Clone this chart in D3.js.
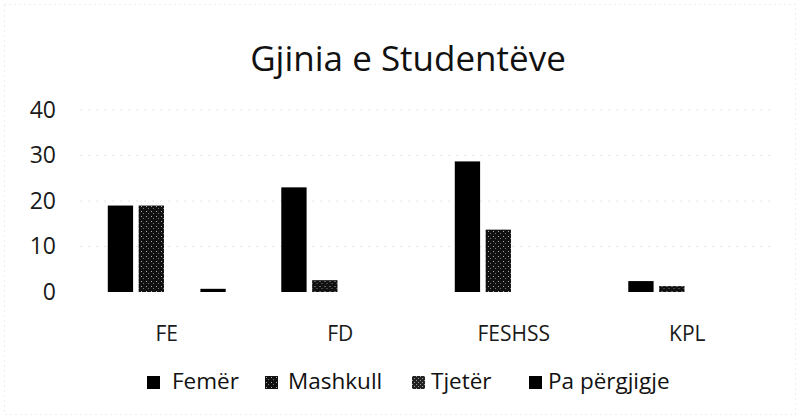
<!DOCTYPE html>
<html>
<head>
<meta charset="utf-8">
<script src="https://cdn.jsdelivr.net/npm/d3@7"></script>
<style>
  body { margin: 0; background: #fff; }
  svg { display: block; font-family: "Open Sans", sans-serif; }
</style>
</head>
<body>
<svg width="800" height="419"></svg>
<script>
var categories = ["FE", "FD", "FESHSS", "KPL"],
    series = ["Femër", "Mashkull", "Tjetër", "Pa përgjigje"],
    femer = [19, 23, 28.7, 2.4],
    mashkull = [19, 2.6, 13.7, 1.3],
    tjeter = [0, 0, 0, 0],
    paPergjigje = [0.7, 0, 0, 0],
    yTicks = [0, 10, 20, 30, 40];

var values = [femer, mashkull, tjeter, paPergjigje];

var svg = d3.select("svg"),
    width = 800,
    height = 419,
    margin = {top: 110, right: 26, bottom: 127, left: 80};

var fills = ["#000", "url(#speckle)", "url(#speckle2)", "#000"];

// speckled fills, like the scanned print
var defs = svg.append("defs");
var pat = defs.append("pattern")
    .attr("id", "speckle")
    .attr("width", 5).attr("height", 5)
    .attr("patternUnits", "userSpaceOnUse");
pat.append("rect").attr("width", 5).attr("height", 5).attr("fill", "#111");
pat.append("rect").attr("x", 1).attr("y", 1).attr("width", 1).attr("height", 1).attr("fill", "#aaa");
pat.append("rect").attr("x", 3).attr("y", 3).attr("width", 1).attr("height", 1).attr("fill", "#777");
var pat2 = defs.append("pattern")
    .attr("id", "speckle2")
    .attr("width", 4).attr("height", 4)
    .attr("patternUnits", "userSpaceOnUse");
pat2.append("rect").attr("width", 4).attr("height", 4).attr("fill", "#222");
pat2.append("rect").attr("x", 0).attr("y", 0).attr("width", 1).attr("height", 1).attr("fill", "#999");
pat2.append("rect").attr("x", 2).attr("y", 2).attr("width", 1).attr("height", 1).attr("fill", "#999");

// faint chart border
svg.append("rect")
    .attr("x", 4.5).attr("y", 4.5)
    .attr("width", width - 9).attr("height", height - 9)
    .attr("fill", "none")
    .attr("stroke", "#ddd")
    .attr("stroke-dasharray", "1,4");

var x0 = d3.scaleBand()
    .domain(categories)
    .range([margin.left, width - margin.right]);

var x1 = d3.scaleBand()
    .domain(series)
    .range([0, x0.bandwidth()])
    .paddingInner(0.18)
    .paddingOuter(0.9);

var y = d3.scaleLinear()
    .domain([0, 40])
    .range([height - margin.bottom, margin.top]);

// gridlines
svg.append("g")
    .selectAll("line")
    .data(yTicks.slice(1))
    .enter().append("line")
    .attr("x1", margin.left)
    .attr("x2", width - margin.right)
    .attr("y1", function(d) { return y(d); })
    .attr("y2", function(d) { return y(d); })
    .attr("stroke", "#e6e6e6")
    .attr("stroke-dasharray", "2,6");

// y axis labels
var yAxis = svg.append("g")
    .attr("transform", "translate(" + 56 + ",0)")
    .call(d3.axisLeft(y).tickValues(yTicks).tickSize(0).tickPadding(0));
yAxis.select(".domain").remove();
yAxis.selectAll("text")
    .attr("font-size", 23)
    .attr("font-family", "Open Sans, sans-serif")
    .attr("fill", "#1a1a1a");

// bars
var group = svg.append("g")
    .selectAll("g")
    .data(categories)
    .enter().append("g")
    .attr("transform", function(d) { return "translate(" + x0(d) + ",0)"; });

group.selectAll("rect")
    .data(function(d, i) {
        return series.map(function(s, j) { return {series: s, value: values[j][i], idx: j}; });
    })
    .enter().append("rect")
    .attr("x", function(d) { return x1(d.series); })
    .attr("width", x1.bandwidth())
    .attr("y", function(d) { return y(d.value); })
    .attr("height", function(d) { return y(0) - y(d.value); })
    .attr("fill", function(d) { return fills[d.idx]; });

// category labels
var xAxis = svg.append("g")
    .attr("transform", "translate(0," + (y(0) + 56) + ")")
    .call(d3.axisBottom(x0).tickSize(0).tickPadding(0));
xAxis.select(".domain").remove();
xAxis.selectAll("text")
    .attr("font-size", 21)
    .attr("font-family", "Open Sans, sans-serif")
    .attr("fill", "#1a1a1a")
    .attr("dy", "-0.35em");

// title
svg.append("text")
    .attr("x", 408)
    .attr("y", 71)
    .attr("text-anchor", "middle")
    .attr("font-size", 35)
    .attr("fill", "#111")
    .text("Gjinia e Studentëve");

// legend
var legendX = [147, 265, 412, 529],
    legendGap = [25, 23, 19, 19];
var legend = svg.append("g")
    .selectAll("g")
    .data(series)
    .enter().append("g")
    .attr("transform", function(d, i) { return "translate(" + legendX[i] + ",376)"; });

legend.append("rect")
    .attr("width", 13)
    .attr("height", 13)
    .attr("fill", function(d, i) { return fills[i]; });

legend.append("text")
    .attr("x", function(d, i) { return legendGap[i]; })
    .attr("y", 13)
    .attr("font-size", 22.5)
    .attr("fill", "#111")
    .text(function(d) { return d; });
</script>
</body>
</html>
